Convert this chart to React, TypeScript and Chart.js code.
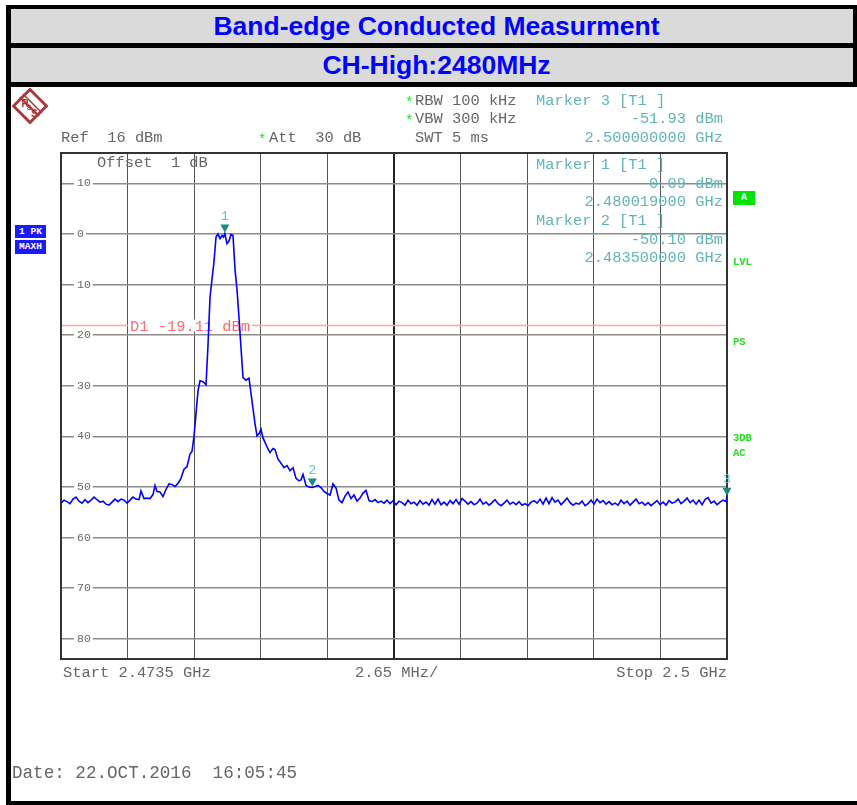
import React, { useEffect, useRef } from "react";
import { Chart, registerables } from "chart.js";

Chart.register(...registerables);

// ---- data ----
const startMHz = 2473.5;
const stopMHz = 2500;
const refLevelDbm = 16;
const bottomLevelDbm = -84;

const xGridMHz = [2473.5, 2476.15, 2478.8, 2481.45, 2484.1, 2486.75, 2489.4, 2492.05, 2494.7, 2497.35, 2500];
const centerGridMHz = 2486.75;
const yTickDbm = [10, 0, -10, -20, -30, -40, -50, -60, -70, -80];

const traceFreqMHz = [
  2473.5, 2473.619, 2473.739, 2473.858, 2473.977, 2474.097, 2474.216, 2474.336, 2474.455, 2474.574,
  2474.694, 2474.813, 2474.932, 2475.052, 2475.171, 2475.291, 2475.41, 2475.529, 2475.649, 2475.768,
  2475.887, 2476.007, 2476.126, 2476.245, 2476.365, 2476.484, 2476.604, 2476.683, 2476.803, 2476.922,
  2477.041, 2477.161, 2477.24, 2477.32, 2477.439, 2477.558, 2477.678, 2477.797, 2477.917, 2478.036,
  2478.155, 2478.275, 2478.394, 2478.514, 2478.633, 2478.712, 2478.792, 2478.872, 2478.951, 2479.031,
  2479.15, 2479.27, 2479.349, 2479.429, 2479.508, 2479.588, 2479.668, 2479.747, 2479.827, 2479.906,
  2479.966, 2480.019, 2480.105, 2480.185, 2480.264, 2480.344, 2480.424, 2480.503, 2480.583, 2480.662,
  2480.742, 2480.861, 2480.981, 2481.06, 2481.14, 2481.219, 2481.299, 2481.379, 2481.458, 2481.538,
  2481.617, 2481.737, 2481.816, 2481.936, 2482.015, 2482.135, 2482.254, 2482.373, 2482.493, 2482.612,
  2482.732, 2482.851, 2482.97, 2483.05, 2483.13, 2483.249, 2483.368, 2483.5, 2483.607, 2483.727,
  2483.846, 2483.965, 2484.085, 2484.204, 2484.324, 2484.443, 2484.562, 2484.682, 2484.801, 2484.921,
  2485.04, 2485.159, 2485.279, 2485.398, 2485.517, 2485.637, 2485.756, 2485.876, 2485.995, 2486.114,
  2486.234, 2486.353, 2486.473, 2486.592, 2486.711, 2486.831, 2486.95, 2487.069, 2487.189, 2487.308,
  2487.428, 2487.547, 2487.666, 2487.786, 2487.905, 2488.024, 2488.144, 2488.263, 2488.383, 2488.502,
  2488.621, 2488.741, 2488.86, 2488.98, 2489.099, 2489.218, 2489.338, 2489.457, 2489.576, 2489.696,
  2489.815, 2489.935, 2490.054, 2490.173, 2490.293, 2490.412, 2490.532, 2490.651, 2490.77, 2490.89,
  2491.009, 2491.128, 2491.248, 2491.367, 2491.487, 2491.606, 2491.725, 2491.845, 2491.964, 2492.083,
  2492.203, 2492.322, 2492.442, 2492.561, 2492.68, 2492.8, 2492.919, 2493.039, 2493.158, 2493.277,
  2493.397, 2493.516, 2493.635, 2493.755, 2493.874, 2493.994, 2494.113, 2494.232, 2494.352, 2494.471,
  2494.59, 2494.71, 2494.829, 2494.949, 2495.068, 2495.187, 2495.307, 2495.426, 2495.546, 2495.665,
  2495.784, 2495.904, 2496.023, 2496.142, 2496.262, 2496.381, 2496.501, 2496.62, 2496.739, 2496.859,
  2496.978, 2497.097, 2497.217, 2497.336, 2497.456, 2497.575, 2497.694, 2497.814, 2497.933, 2498.053,
  2498.172, 2498.291, 2498.411, 2498.53, 2498.649, 2498.769, 2498.888, 2499.008, 2499.127, 2499.246,
  2499.366, 2499.485, 2499.604, 2499.724, 2499.843, 2499.963, 2500.0,
];

const traceLevelDbm = [
  -53.2, -52.6, -52.9, -53.3, -52.4, -52.0, -52.8, -53.2, -52.5, -53.1,
  -52.6, -52.0, -52.5, -53.0, -52.8, -53.4, -53.6, -53.0, -52.4, -52.9,
  -52.4, -52.6, -53.2, -52.6, -52.0, -52.4, -52.5, -50.8, -52.3, -52.2,
  -52.3, -51.5, -49.7, -50.9, -51.0, -51.9, -50.5, -49.4, -49.5, -49.9,
  -49.3, -48.3, -46.5, -46.0, -43.5, -43.0, -40.0, -35.5, -31.0, -29.0,
  -29.2, -29.8, -22.0, -12.5, -9.0, -5.5, -0.6, 0.0, -0.9, -0.3,
  -0.6, 0.09, -1.9, -1.4, -0.1, -0.3, -7.0, -11.0, -16.5, -22.5,
  -28.4, -28.9, -28.5, -31.5, -34.5, -37.5, -39.9, -39.5, -38.6, -40.3,
  -41.2, -42.5, -43.2, -42.4, -42.6, -44.5, -45.3, -46.2, -45.8, -46.8,
  -46.2, -48.3, -48.8, -48.6, -47.5, -49.7, -50.0, -50.1, -49.9, -49.7,
  -50.1, -50.9, -51.3, -51.6, -49.4, -50.2, -52.6, -53.1, -51.8, -51.0,
  -52.3, -51.6, -52.8, -52.2, -51.2, -50.7, -52.7, -52.9, -52.5, -53.1,
  -52.8, -53.2, -52.6, -53.3, -52.7, -53.5, -52.8, -53.1, -53.6, -52.6,
  -53.3, -53.0, -53.6, -52.7, -53.4, -53.0, -53.6, -52.5, -53.4, -52.4,
  -53.5, -53.0, -53.6, -52.7, -53.3, -52.5, -53.4, -52.3, -52.8, -53.4,
  -52.9, -53.5, -53.2, -52.4, -53.4, -53.0, -53.6, -53.1, -52.5, -53.3,
  -53.7, -53.2, -52.6, -53.4, -53.0, -53.5, -52.9, -53.6, -53.3, -53.7,
  -53.0, -52.7, -53.2, -52.4, -53.4, -52.2, -53.3, -52.1, -53.0, -52.6,
  -53.5, -52.9, -52.2, -53.1, -53.6, -53.2, -53.4, -52.8, -53.7, -53.3,
  -52.6, -53.4, -52.4, -53.1, -52.7, -53.4, -52.9, -53.5, -53.2, -53.6,
  -52.6, -53.3, -52.8, -53.6, -53.0, -52.4, -53.3, -53.0, -53.6, -53.1,
  -53.7, -53.2, -52.7, -53.5, -53.0, -53.6, -52.7, -53.2, -53.0, -52.4,
  -53.3, -52.8, -52.2, -53.1, -52.6, -53.4, -52.6, -53.5, -52.5, -52.1,
  -53.2, -52.8, -53.5, -53.0, -52.6, -52.9, -51.93,
];

const markerLabels = ["1", "2", "3"];
const markerFreqMHz = [2480.019, 2483.5, 2500.0];
const markerLevelDbm = [0.09, -50.1, -51.93];

const displayLineText = "D1 -19.11 dBm";
const displayLineDbm = -17.9;

const MONO = "'Liberation Mono', 'DejaVu Sans Mono', monospace";

const instrumentPlugin = {
  id: "instrument",
  beforeDatasetsDraw(chart: any) {
    const { ctx, chartArea: a, scales } = chart;
    ctx.save();
    const y = Math.round(scales.y.getPixelForValue(displayLineDbm)) + 0.5;
    ctx.strokeStyle = "#ffa3a3";
    ctx.lineWidth = 1.5;
    ctx.beginPath();
    ctx.moveTo(a.left, y);
    ctx.lineTo(a.right, y);
    ctx.stroke();
    ctx.font = `15.4px ${MONO}`;
    const tx = a.left + 69;
    const w = ctx.measureText(displayLineText).width;
    ctx.fillStyle = "#ffffff";
    ctx.fillRect(tx - 2, y - 6, w + 4, 12);
    ctx.fillStyle = "#ff6a6a";
    ctx.textBaseline = "middle";
    ctx.textAlign = "left";
    ctx.fillText(displayLineText, tx, y + 1);
    ctx.strokeStyle = "#333333";
    ctx.lineWidth = 2;
    ctx.strokeRect(a.left, a.top, a.right - a.left, a.bottom - a.top);
    ctx.restore();
  },
  afterDatasetsDraw(chart: any) {
    const { ctx, scales } = chart;
    ctx.save();
    markerFreqMHz.forEach((f, i) => {
      const px = scales.x.getPixelForValue(f);
      const py = scales.y.getPixelForValue(markerLevelDbm[i]);
      ctx.fillStyle = "#1b8a7e";
      ctx.beginPath();
      ctx.moveTo(px - 4.5, py - 9);
      ctx.lineTo(px + 4.5, py - 9);
      ctx.lineTo(px, py - 1);
      ctx.closePath();
      ctx.fill();
      ctx.fillStyle = "#6cc2c2";
      ctx.font = `13px ${MONO}`;
      ctx.textAlign = "center";
      ctx.textBaseline = "middle";
      ctx.fillText(markerLabels[i], px, py - 17);
    });
    ctx.restore();
  },
};

type TProps = {
  x: number;
  y: number;
  text: string;
  color?: string;
  size?: number;
  right?: boolean;
  bold?: boolean;
  family?: string;
};

function T({ x, y, text, color = "#666", size = 15.4, right = false, bold = false, family = MONO }: TProps) {
  return (
    <div
      style={{
        position: "absolute",
        left: x,
        top: y - size * 0.6,
        lineHeight: `${size * 1.2}px`,
        fontSize: size,
        fontFamily: family,
        fontWeight: bold ? "bold" : "normal",
        color,
        whiteSpace: "pre",
        transform: right ? "translateX(-100%)" : undefined,
      }}
    >
      {text}
    </div>
  );
}

function Box({ x, y, w, h, bg, text, color = "#fff", size = 10 }: any) {
  return (
    <div
      style={{
        position: "absolute",
        left: x,
        top: y,
        width: w,
        height: h,
        background: bg,
        color,
        fontFamily: MONO,
        fontWeight: "bold",
        fontSize: size,
        lineHeight: `${h}px`,
        textAlign: "center",
        whiteSpace: "pre",
      }}
    >
      {text}
    </div>
  );
}

export default function App() {
  const ref = useRef<HTMLCanvasElement | null>(null);

  useEffect(() => {
    if (!ref.current) return;
    const data = traceFreqMHz.map((f, i) => ({ x: f, y: traceLevelDbm[i] }));
    const chart = new Chart(ref.current, {
      type: "line",
      data: {
        datasets: [
          {
            data,
            borderColor: "#0000ff",
            borderWidth: 1.6,
            pointRadius: 0,
            tension: 0,
            fill: false,
          },
        ],
      },
      options: {
        animation: false,
        responsive: false,
        events: [],
        layout: { padding: { left: 61, top: 153, right: 130, bottom: 146 } },
        plugins: { legend: { display: false }, tooltip: { enabled: false } },
        scales: {
          x: {
            type: "linear",
            min: startMHz,
            max: stopMHz,
            afterBuildTicks: (axis: any) => {
              axis.ticks = xGridMHz.map((v) => ({ value: v }));
            },
            afterFit: (axis: any) => {
              axis.height = 0;
            },
            ticks: { display: false },
            border: { display: false },
            grid: {
              drawTicks: false,
              color: (c: any) => (c.tick && c.tick.value === centerGridMHz ? "#222" : "#555"),
              lineWidth: (c: any) => (c.tick && c.tick.value === centerGridMHz ? 2 : 1),
            },
          },
          y: {
            type: "linear",
            min: bottomLevelDbm,
            max: refLevelDbm,
            afterBuildTicks: (axis: any) => {
              axis.ticks = yTickDbm.map((v) => ({ value: v }));
            },
            afterFit: (axis: any) => {
              axis.width = 0;
            },
            border: { display: false },
            grid: { drawTicks: false, color: "#8c8c8c", lineWidth: 1.5 },
            ticks: {
              mirror: true,
              padding: 16,
              color: "#666",
              font: { family: MONO, size: 11.5 },
              showLabelBackdrop: true,
              backdropColor: "#ffffff",
              backdropPadding: { top: 0, bottom: 0, left: 3, right: 2 },
              callback: (v: any) => String(Math.abs(Number(v))),
            },
          },
        },
      },
      plugins: [instrumentPlugin],
    });
    return () => chart.destroy();
  }, []);

  const green = "#22dd22";
  const teal = "#5fb5b5";

  return (
    <div
      style={{
        position: "absolute",
        left: 0,
        top: 0,
        width: 857,
        height: 805,
        overflow: "hidden",
        background: "#fff",
      }}
    >
      <div style={{ position: "absolute", left: 6, top: 5, width: 851, height: 82, background: "#000" }} />
      <div style={{ position: "absolute", left: 11, top: 9, width: 842, height: 34, background: "#dadada" }} />
      <div style={{ position: "absolute", left: 11, top: 48, width: 842, height: 34, background: "#dadada" }} />
      <div style={{ position: "absolute", left: 6, top: 5, width: 5, height: 800, background: "#000" }} />
      <div style={{ position: "absolute", left: 6, top: 801, width: 851, height: 4, background: "#000" }} />
      <div
        style={{
          position: "absolute",
          left: 0,
          width: 873,
          top: 9,
          height: 34,
          lineHeight: "34px",
          textAlign: "center",
          fontFamily: "'Liberation Sans', Arial, sans-serif",
          fontWeight: "bold",
          fontSize: 26.5,
          color: "#0000ff",
        }}
      >
        Band-edge Conducted Measurment
      </div>
      <div
        style={{
          position: "absolute",
          left: 0,
          width: 873,
          top: 48,
          height: 34,
          lineHeight: "34px",
          textAlign: "center",
          fontFamily: "'Liberation Sans', Arial, sans-serif",
          fontWeight: "bold",
          fontSize: 26.5,
          color: "#0000ff",
        }}
      >
        CH-High:2480MHz
      </div>

      <canvas
        ref={ref}
        width={857}
        height={805}
        style={{ position: "absolute", left: 0, top: 0, width: 857, height: 805 }}
      />

      {/* R&S logo */}
      <svg style={{ position: "absolute", left: 12, top: 88 }} width={36} height={36} viewBox="0 0 36 36">
        <polygon points="18,1.5 34.5,18 18,34.5 1.5,18" fill="none" stroke="#a83a3a" strokeWidth={3} />
        <line x1="8" y1="9" x2="27" y2="28" stroke="#a83a3a" strokeWidth={2.2} />
        <line x1="11" y1="6" x2="30" y2="25" stroke="#a83a3a" strokeWidth={1.4} />
        <text x="9.5" y="19" fontSize="10" fill="#a83a3a" fontFamily="'Liberation Sans', Arial" fontWeight="bold">R</text>
        <text x="15" y="22" fontSize="7" fill="#a83a3a" fontFamily="'Liberation Sans', Arial" fontWeight="bold">&amp;</text>
        <text x="19" y="29" fontSize="10" fill="#a83a3a" fontFamily="'Liberation Sans', Arial" fontWeight="bold">S</text>
      </svg>

      {/* setup texts */}
      <T x={405} y={103} text="*" color={green} size={14} />
      <T x={405} y={121} text="*" color={green} size={14} />
      <T x={258} y={140} text="*" color={green} size={14} />
      <T x={415} y={101} text="RBW 100 kHz" />
      <T x={415} y={119} text="VBW 300 kHz" />
      <T x={415} y={138} text="SWT 5 ms" />
      <T x={61} y={138} text="Ref  16 dBm" />
      <T x={269} y={138} text="Att  30 dB" />
      <T x={97} y={163} text="Offset  1 dB" />

      {/* marker info */}
      <T x={536} y={101} text="Marker 3 [T1 ]" color={teal} />
      <T x={723} y={119} text="-51.93 dBm" color={teal} right />
      <T x={723} y={138} text="2.500000000 GHz" color={teal} right />
      <T x={536} y={165} text="Marker 1 [T1 ]" color={teal} />
      <T x={723} y={184} text="0.09 dBm" color={teal} right />
      <T x={723} y={202} text="2.480019000 GHz" color={teal} right />
      <T x={536} y={221} text="Marker 2 [T1 ]" color={teal} />
      <T x={723} y={240} text="-50.10 dBm" color={teal} right />
      <T x={723} y={258} text="2.483500000 GHz" color={teal} right />

      {/* side labels */}
      <Box x={15} y={225} w={31} h={13} bg="#1a1aff" text="1 PK" size={9.5} />
      <Box x={15} y={240} w={31} h={14} bg="#1a1aff" text="MAXH" size={9.5} />
      <Box x={733} y={191} w={22} h={14} bg="#00e400" text="A" size={10} />
      <T x={733} y={262} text="LVL" color={green} size={10.5} bold />
      <T x={733} y={342} text="PS" color={green} size={10.5} bold />
      <T x={733} y={438} text="3DB" color={green} size={10.5} bold />
      <T x={733} y={453} text="AC" color={green} size={10.5} bold />

      {/* bottom texts */}
      <T x={63} y={673} text="Start 2.4735 GHz" />
      <T x={355} y={673} text="2.65 MHz/" />
      <T x={727} y={673} text="Stop 2.5 GHz" right />
      <T x={12} y={774} text="Date: 22.OCT.2016  16:05:45" size={17.6} />
    </div>
  );
}
